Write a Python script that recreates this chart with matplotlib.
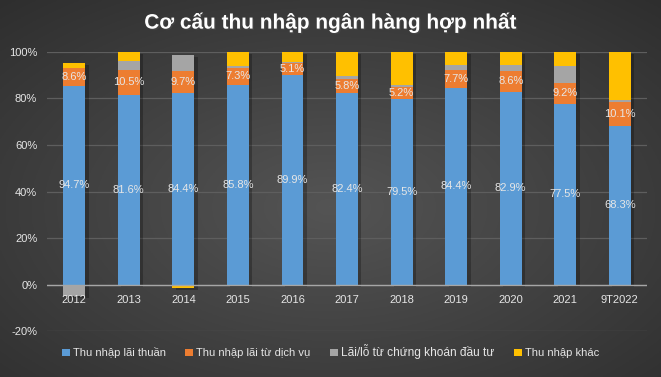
import numpy as np
import matplotlib
matplotlib.use("Agg")
import matplotlib.pyplot as plt
import matplotlib.patheffects as pe
from matplotlib.transforms import ScaledTranslation

plt.rcParams['font.family'] = ['Liberation Sans', 'DejaVu Sans']

# data (raw shares, %)
years = ['2012', '2013', '2014', '2015', '2016', '2017', '2018', '2019', '2020', '2021', '9T2022']
lai_thuan = [94.7, 81.6, 84.4, 85.8, 89.9, 82.4, 79.5, 84.4, 82.9, 77.5, 68.3]
dich_vu = [8.6, 10.5, 9.7, 7.3, 5.1, 5.8, 5.2, 7.7, 8.6, 9.2, 10.1]
chung_khoan = [-5.5, 4.0, 7.3, 0.6, 0.5, 1.4, 1.0, 2.0, 2.6, 7.3, 1.0]
khac = [2.2, 3.9, -1.4, 6.3, 4.5, 10.4, 14.3, 5.9, 5.9, 6.0, 20.6]

names = ['Thu nhập lãi thuần', 'Thu nhập lãi từ dịch vụ',
         'Lãi/lỗ từ chứng khoán đầu tư', 'Thu nhập khác']
colors = ['#5b9bd5', '#ed7d31', '#a5a5a5', '#ffc000']
series = [lai_thuan, dich_vu, chung_khoan, khac]
labelled = [True, True, False, False]

fig = plt.figure(figsize=(6.61, 3.77), dpi=100)

# radial dark background
bg = fig.add_axes([0, 0, 1, 1], zorder=-10)
yy, xx = np.mgrid[0:1:200j, 0:1:350j]
r = np.sqrt(((xx - 0.5) / 0.75) ** 2 + ((yy - 0.55) / 0.75) ** 2)
shade = np.clip(0.33 - 0.15 * r, 0.17, 0.33)
bg.imshow(np.dstack([shade] * 3), aspect='auto', extent=[0, 1, 0, 1])
bg.axis('off')

ax = fig.add_axes([0.071, 0.121, 0.908, 0.742])
ax.set_facecolor('none')

# 100% stacked: each part shown as share of the sum of absolute values
data = np.array(series, dtype=float)
total = np.abs(data).sum(axis=0)
shown = data / total * 100
x = np.arange(len(years))
txt = '#e6e6e6'

# one soft shadow behind each whole stack
top = np.where(shown > 0, shown, 0).sum(axis=0)
low = np.where(shown < 0, shown, 0).sum(axis=0)
off = ax.transData + ScaledTranslation(2.5 / 72, -1.5 / 72, fig.dpi_scale_trans)
ax.bar(x, top - low, 0.4, bottom=low, color='black', alpha=0.25,
       transform=off, zorder=2)

pos_base = np.zeros(len(years))
neg_base = np.zeros(len(years))
for raw, vals, c, lab, name in zip(data, shown, colors, labelled, names):
    bottoms = np.where(vals >= 0, pos_base, neg_base)
    ax.bar(x, vals, 0.4, bottom=bottoms, color=c, label=name, zorder=3)
    if lab:
        for xi, b, v, rv in zip(x, bottoms, vals, raw):
            ax.text(xi, b + v / 2, f'{rv:.1f}%', ha='center', va='center',
                    color=txt, fontsize=8, zorder=5)
    pos_base = pos_base + np.where(vals >= 0, vals, 0)
    neg_base = neg_base + np.where(vals < 0, vals, 0)

ax.set_ylim(-20, 100)
ax.set_xlim(-0.5, len(years) - 0.5)
ax.set_yticks(np.arange(-20, 101, 20))
ax.set_yticklabels([f'{v}%' for v in range(-20, 101, 20)])
ax.tick_params(axis='y', length=0, colors=txt, labelsize=8, pad=7)
ax.tick_params(axis='x', length=0, labelbottom=False)
ax.grid(axis='y', color='#5e5e5e', lw=0.9, zorder=0)
ax.axhline(0, color='#a6a6a6', lw=1, zorder=4)
for s in ax.spines.values():
    s.set_visible(False)

for xi, y in zip(x, years):
    ax.text(xi, -4.5, y, ha='center', va='top', color=txt, fontsize=8)

fig.text(0.5, 0.94, 'Cơ cấu thu nhập ngân hàng hợp nhất', ha='center', va='center',
         color='white', fontsize=15, fontweight='bold',
         path_effects=[pe.withSimplePatchShadow(offset=(1, -1), alpha=0.5)])

leg = fig.legend(loc='lower center', bbox_to_anchor=(0.5, 0.02), ncol=4,
                 frameon=False, fontsize=8, handlelength=0.7, handleheight=0.7,
                 handletextpad=0.3, columnspacing=1.75, labelcolor=txt)
leg.get_texts()[2].set_fontsize(8.6)

fig.savefig('out.png', dpi=100, facecolor='#3a3a3a')
